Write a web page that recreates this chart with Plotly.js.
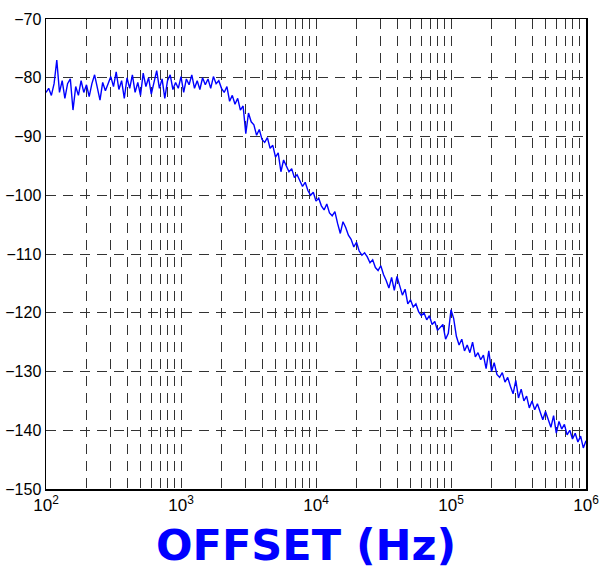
<!DOCTYPE html>
<html>
<head>
<meta charset="utf-8">
<script src="https://cdn.plot.ly/plotly-3.0.1.min.js"></script>
<style>html,body{margin:0;padding:0;background:#fff;}#chart{width:601px;height:567px;}</style>
</head>
<body>
<div id="chart"></div>
<script>
// Offset frequency (Hz)
const freqHz = [
100,104.7,109.6,114.8,120.2,125.9,131.8,138.0,144.5,151.4,158.5,166.0,173.8,182.0,190.5,199.5,208.9,218.8,229.1,239.9,
251.2,263.0,275.4,288.4,302.0,316.2,331.1,346.7,363.1,380.2,398.1,416.9,436.5,457.1,478.6,501.2,524.8,549.5,575.4,602.6,
631.0,660.7,691.8,724.4,758.6,794.3,831.8,871.0,912.0,955.0,
1000,1047,1096,1148,1202,1259,1318,1380,1445,1514,1585,1660,1738,1820,1905,1995,2089,2188,2291,2399,
2512,2630,2754,2884,3020,3162,3311,3467,3631,3802,3981,4169,4365,4571,4786,5012,5248,5495,5754,6026,
6310,6607,6918,7244,7586,7943,8318,8710,9120,9550,
10000,10470,10960,11480,12020,12590,13180,13800,14450,15140,15850,16600,17380,18200,19050,19950,20890,21880,22910,23990,
25120,26300,27540,28840,30200,31620,33110,34670,36310,38020,39810,41690,43650,45710,47860,50120,52480,54950,57540,60260,
63100,66070,69180,72440,75860,79430,83180,87100,91200,95500,
100000,104700,109600,114800,120200,125900,131800,138000,144500,151400,158500,166000,173800,182000,190500,199500,208900,218800,229100,239900,
251200,263000,275400,288400,302000,316200,331100,346700,363100,380200,398100,416900,436500,457100,478600,501200,524800,549500,575400,602600,
631000,660700,691800,724400,758600,794300,831800,871000,912000,955000,
1000000
];
// Phase noise (dBc/Hz)
const noiseDb = [
-82.5,-81.8,-83.0,-81.0,-77.0,-82.5,-80.5,-83.5,-81.0,-80.2,-85.5,-81.5,-83.0,-80.5,-82.5,-81.2,-83.2,-81.0,-79.5,-82.0,
-83.8,-80.8,-82.2,-81.0,-79.8,-81.5,-79.0,-82.0,-80.5,-83.5,-80.0,-81.8,-79.5,-82.5,-80.8,-83.0,-79.2,-81.5,-80.0,-82.8,
-80.5,-78.8,-81.8,-80.2,-83.5,-80.5,-79.5,-82.0,-80.8,-81.8,
-79.8,-82.5,-80.2,-81.2,-79.5,-81.8,-80.5,-82.0,-80.0,-81.2,-80.2,-81.8,-79.8,-81.0,-80.5,-81.8,-82.5,-81.5,-84.0,-83.0,
-84.5,-83.5,-85.5,-84.8,-89.5,-86.0,-87.5,-88.0,-89.8,-88.8,-90.5,-91.0,-90.2,-92.0,-91.5,-93.5,-92.8,-96.0,-94.0,-95.0,
-96.0,-95.5,-97.0,-96.5,-97.5,-98.5,-97.8,-99.2,-100.0,-99.5,
-101.0,-100.5,-101.8,-102.5,-101.5,-103.0,-103.5,-102.8,-104.8,-106.5,-104.5,-105.5,-106.8,-107.5,-108.8,-108.0,-109.5,-110.2,-109.8,-110.5,
-111.5,-111.0,-112.3,-112.8,-112.0,-113.5,-114.5,-115.8,-114.0,-116.2,-113.8,-115.5,-117.0,-116.0,-118.5,-117.8,-119.0,-118.5,-119.8,-120.5,
-120.0,-121.2,-120.5,-122.0,-121.5,-123.0,-122.5,-122.0,-124.5,-123.5,
-119.5,-121.0,-124.0,-125.5,-124.5,-126.5,-125.5,-126.8,-125.0,-127.5,-126.8,-128.0,-127.2,-129.5,-126.5,-130.0,-128.5,-130.5,-131.0,-130.2,
-131.8,-131.0,-132.5,-133.8,-131.5,-134.5,-133.0,-135.0,-134.2,-136.2,-135.0,-136.5,-135.5,-137.0,-138.2,-136.8,-138.0,-139.5,-137.5,-140.5,
-138.5,-139.8,-139.0,-140.8,-140.0,-141.5,-140.5,-142.0,-141.0,-143.0,
-141.8
];
const xTickVals = [100, 1000, 10000, 100000, 1000000];
const xTickText = ['10<sup>2</sup>', '10<sup>3</sup>', '10<sup>4</sup>', '10<sup>5</sup>', '10<sup>6</sup>'];
const xMinorVals = [200,300,400,500,600,700,800,900,2000,3000,4000,5000,6000,7000,8000,9000,
  20000,30000,40000,50000,60000,70000,80000,90000,200000,300000,400000,500000,600000,700000,800000,900000];
const xTitle = 'OFFSET (Hz)';

const trace = {
  x: freqHz, y: noiseDb, type: 'scatter', mode: 'lines',
  line: {color: '#0000ff', width: 1.4}, hoverinfo: 'skip'
};
const dashPat = '10px,7px';
const gridStyle = {gridcolor: '#333', gridwidth: 1, griddash: dashPat};
const layout = {
  width: 601, height: 567,
  margin: {l: 46, r: 15, t: 19, b: 78},
  paper_bgcolor: '#fff', plot_bgcolor: '#fff',
  showlegend: false,
  font: {family: 'Liberation Sans, Arial, sans-serif', color: '#000', size: 16},
  xaxis: Object.assign({
    type: 'log', range: [2, 6],
    tickvals: xTickVals, ticktext: xTickText,
    tickfont: {size: 17},
    showgrid: true,
    showline: true, mirror: true, linecolor: '#000', linewidth: 1.5,
    ticks: '', zeroline: false,
    minor: {tickvals: xMinorVals, showgrid: true, gridcolor: '#333', gridwidth: 1, griddash: dashPat, ticks: ''}
  }, gridStyle),
  yaxis: Object.assign({
    range: [-150, -70], dtick: 10, tick0: -150,
    showgrid: true,
    showline: true, mirror: true, linecolor: '#000', linewidth: 1.5,
    ticks: '', zeroline: false,
    tickfont: {size: 16}
  }, gridStyle),
  annotations: [{
    text: xTitle, xref: 'paper', yref: 'paper', x: 0.482, y: -0.119,
    xanchor: 'center', yanchor: 'middle', showarrow: false,
    font: {family: 'DejaVu Sans, sans-serif', size: 43, color: '#0000ff', weight: 'bold'}
  }]
};
Plotly.newPlot('chart', [trace], layout, {staticPlot: true, displayModeBar: false});
</script>
</body>
</html>
